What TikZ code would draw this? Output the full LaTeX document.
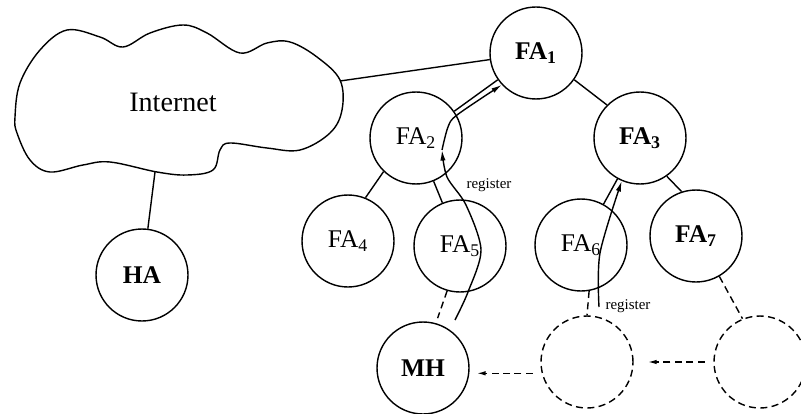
\documentclass[tikz,border=0pt]{standalone}
\usepackage{fontspec}
\setmainfont{Liberation Serif}
\usetikzlibrary{arrows.meta}

\begin{document}
\begin{tikzpicture}[x=0.02cm,y=0.02cm,line width=0.8pt,
    every circle node/.style={draw,minimum size=1.84cm,inner sep=0pt,font=\fontsize{14.5}{17}\selectfont},
    wireless/.style={dash pattern=on 4pt off 2.5pt},
    move/.style={wireless,-{Latex[length=5pt,width=2.5pt]},shorten <=5pt},
    register/.style={-{Latex[length=6pt,width=3pt]}},
    regtext/.style={font=\fontsize{8.5}{10}\selectfont,inner sep=0pt}]
    \useasboundingbox (0,0) rectangle (801,413);
    % the Internet cloud
    \draw plot[smooth cycle,tension=0.6] coordinates {(15,296) (20,330) (40,363) (67,383) (100,376)
        (123,366) (150,380) (183,388) (207,380) (240,360) (267,370) (290,371) (317,356) (340,333)
        (342,303) (330,280) (300,263) (267,265) (230,270) (220,263) (213,243) (187,238) (157,241)
        (110,251) (83,248) (50,241) (30,253) (17,280)};
    \node (inet) at (173,311) {\fontsize{16}{19}\selectfont Internet};
    \coordinate (inetE) at (340,332);
    \coordinate (inetS) at (155,241);
    % agents
    \node[circle] (HA) at (142,138) {\bfseries HA};
    \node[circle] (FA1) at (536,360) {\bfseries FA\textsubscript{1}};
    \node[circle] (FA2) at (416,275) {FA\textsubscript{2}};
    \node[circle] (FA3) at (640,275) {\bfseries FA\textsubscript{3}};
    \node[circle] (FA4) at (348,172) {FA\textsubscript{4}};
    \node[circle] (FA5) at (460,167) {FA\textsubscript{5}};
    \node[circle] (FA6) at (581,168) {FA\textsubscript{6}};
    \node[circle] (FA7) at (696,177) {\bfseries FA\textsubscript{7}};
    \node[circle] (MH) at (423,45) {\bfseries MH};
    \node[circle,wireless] (p1) at (587,51) {};
    \node[circle,wireless] (p2) at (760,51) {};
    % wired links
    \draw (inetE) edge (FA1);
    \draw (inetS) edge (HA);
    \draw (FA1.215) edge (FA2.35);
    \draw (FA1.325) edge (FA3.135);
    \draw (FA2.226) edge (FA4.68);
    \draw (FA2) edge (FA5);
    \draw (FA3) edge (FA6);
    \draw (FA3.305) edge (FA7.108);
    % radio links and moves
    \draw[wireless,shorten >=3pt] (FA5.254) -- (MH.74);
    \draw[wireless] (FA6.280) -- (p1.north);
    \draw[wireless] (FA7.300) -- (p2.112);
    \draw[move,shorten >=8pt] (p2.west) -- (p1.east);
    \draw[move,shorten >=4pt] (p1.194) -- (p1.194 -| MH.east);
    % registration paths
    \coordinate (regL) at (455,93);
    \coordinate (regR) at (599,106);
    \draw[register] plot[smooth,tension=0.5] coordinates {(regL) (468,121) (481,163) (466,208) (447,236) (442,263)};
    \draw[register] plot[smooth,tension=0.5] coordinates {(442,263) (448,286) (457,298) (FA1.223)};
    \draw[register] plot[smooth,tension=0.5] coordinates {(regR) (600,160) (FA3.247)};
    \node[regtext] (regLtext) at (489,228) {register};
    \node[regtext] (regRtext) at (628,107) {register};
\end{tikzpicture}
\end{document}
